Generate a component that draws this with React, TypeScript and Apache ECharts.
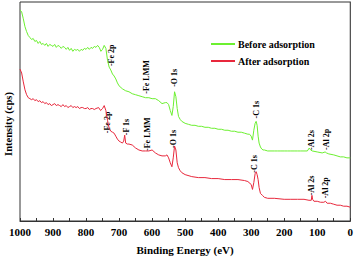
import React, { useEffect, useRef } from "react";
import * as echarts from "echarts";

const FONT = "'Liberation Serif', 'Times New Roman', serif";

const seriesNames = ["Before adsorption", "After adsorption"];

const energyBefore = [
  1000, 995, 990, 985, 980, 975, 970, 965, 960, 955, 950, 945, 940, 935, 930, 925, 920, 915, 910, 905,
  900, 895, 890, 885, 880, 875, 870, 865, 860, 855, 850, 845, 840, 835, 830, 825, 820, 815, 810, 805,
  800, 795, 790, 785, 780, 775, 770, 765, 760, 755, 750, 745, 740, 735, 730, 725, 720, 715, 710, 705,
  700, 690, 680, 670, 660, 650, 640, 630, 620, 610, 600, 590, 580, 570, 560, 555, 550, 545, 540, 536,
  532, 528, 524, 520, 515, 510, 500, 490, 480, 470, 460, 450, 440, 430, 420, 410, 400, 390, 380, 370,
  360, 350, 340, 330, 320, 310, 305, 300, 296, 292, 288, 285, 282, 279, 276, 272, 268, 264, 260, 250,
  240, 230, 220, 210, 200, 190, 180, 170, 160, 150, 140, 130, 124, 120, 115, 100, 85, 76, 72, 65,
  50, 40, 30, 20, 10, 0,
];
const intensityBefore = [
  214, 212, 205, 197, 192, 188, 186, 184, 185, 182, 183, 180, 182, 179, 180, 178, 180, 177, 179, 178,
  177, 179, 176, 178, 177, 175, 177, 176, 174, 176, 173, 175, 172, 174, 173, 174, 172, 174, 173, 175,
  174, 176, 174, 176, 175, 177, 176, 178, 176, 172, 174, 178, 175, 163, 156, 153, 149, 147, 144, 140,
  137, 134, 132, 131, 129, 128, 127, 126, 125, 125, 124, 124, 122, 119, 120, 120, 118, 112, 107, 116,
  131, 126, 114, 106, 103, 101, 99, 98, 97, 97, 96, 96, 95, 95, 94, 94, 93, 93, 92, 92,
  91, 91, 90, 90, 89, 88, 88, 86, 82, 92, 99, 101, 97, 86, 79, 75, 73, 72, 72, 71,
  71, 71, 71, 71, 71, 71, 71, 71, 71, 71, 71, 71, 74, 72, 71, 70, 69, 70, 69, 68,
  67, 66, 65, 65, 64, 64,
];

const energyAfter = [
  1000, 995, 990, 985, 980, 975, 970, 965, 960, 955, 950, 945, 940, 935, 930, 925, 920, 915, 910, 905,
  900, 895, 890, 885, 880, 875, 870, 865, 860, 855, 850, 845, 840, 835, 830, 825, 820, 815, 810, 805,
  800, 795, 790, 785, 780, 775, 770, 762, 756, 750, 745, 740, 735, 730, 725, 720, 715, 710, 705, 700,
  695, 690, 686, 683, 680, 675, 670, 660, 650, 640, 630, 620, 610, 600, 590, 580, 570, 560, 555, 550,
  545, 540, 536, 532, 528, 524, 520, 515, 510, 500, 480, 460, 440, 420, 400, 380, 360, 340, 320, 310,
  300, 296, 292, 288, 285, 282, 279, 276, 272, 266, 260, 250, 230, 200, 180, 160, 140, 125, 118, 116,
  114, 110, 100, 90, 80, 75, 70, 60, 50, 40, 30, 20, 10, 0,
];
const intensityAfter = [
  154, 150, 141, 133, 128, 125, 124, 123, 124, 122, 123, 121, 122, 120, 121, 119, 120, 118, 119, 117,
  118, 119, 117, 118, 117, 116, 118, 116, 117, 115, 116, 117, 115, 116, 115, 116, 114, 115, 115, 114,
  114, 115, 113, 114, 114, 113, 114, 115, 112, 114, 117, 112, 102, 94, 91, 90, 89, 86, 83, 81,
  80, 79, 81, 87, 79, 78, 78, 77, 74, 72, 71, 71, 71, 72, 69, 67, 66, 66, 67, 64,
  59, 55, 64, 76, 72, 59, 54, 51, 49, 47, 45, 44, 44, 43, 43, 42, 42, 42, 41, 40,
  37, 32, 39, 48, 50, 47, 42, 34, 28, 26, 24, 23, 23, 22, 22, 22, 22, 21, 21, 26,
  22, 20, 20, 19, 19, 20, 18, 18, 17, 16, 16, 15, 15, 14,
];

const peakNamesBefore = ["Fe 2p", "Fe LMM", "O 1s", "C 1s", "Al 2s", "Al 2p"];
const peakEnergyBefore = [722, 616, 532, 284, 118, 73];
const peakLabelBaseBefore = [157, 129, 136, 104, 72, 72];

const peakNamesAfter = ["Fe 2p", "F 1s", "Fe LMM", "O 1s", "C 1s", "Al 2s", "Al 2p"];
const peakEnergyAfter = [734, 677, 613, 535, 290, 118, 76];
const peakLabelBaseAfter = [89, 87, 71, 74, 49, 26, 23];

const GREEN = "#6cf030";
const RED = "#e8283c";

function zip(a: number[], b: number[]) {
  return a.map((v, i) => [v, b[i]]);
}

export default function App() {
  const ref = useRef<HTMLDivElement>(null);
  useEffect(() => {
    if (!ref.current) return;
    const chart = echarts.init(ref.current, undefined, { renderer: "svg" });
    const titleGraphic = {
      type: "text",
      x: 8,
      y: 124,
      rotation: Math.PI / 2,
      style: {
        text: "Intensity (cps)",
        fontFamily: FONT,
        fontWeight: "bold",
        fontSize: 10.5,
        fill: "#000",
        align: "center",
        verticalAlign: "middle",
      },
    };
    chart.setOption({
      animation: false,
      grid: {
        left: 20,
        right: 5,
        top: 2,
        bottom: 36,
        show: true,
        borderColor: "#333",
        borderWidth: 1,
      },
      legend: {
        orient: "vertical",
        left: 211,
        top: 38,
        padding: 0,
        itemWidth: 24,
        itemHeight: 2,
        itemGap: 5,
        icon: "rect",
        data: seriesNames,
        textStyle: {
          fontFamily: FONT,
          fontWeight: "bold",
          fontSize: 10,
          color: "#000",
          padding: [0, 0, 0, -2],
          lineHeight: 12,
        },
      },
      xAxis: {
        type: "value",
        inverse: true,
        min: 0,
        max: 1000,
        interval: 100,
        name: "Binding Energy (eV)",
        nameLocation: "middle",
        nameGap: 23,
        nameTextStyle: { fontFamily: FONT, fontWeight: "bold", fontSize: 11, color: "#000" },
        axisLine: { show: true, lineStyle: { color: "#333", width: 1 } },
        axisTick: { show: true, inside: true, length: 3, lineStyle: { color: "#333" } },
        minorTick: { show: true, splitNumber: 2, length: 3, lineStyle: { color: "#333" } },
        splitLine: { show: false },
        axisLabel: {
          fontFamily: FONT,
          fontWeight: "bold",
          fontSize: 11,
          color: "#000",
          margin: 5,
          formatter: (v: number) => String(v),
        },
      },
      yAxis: {
        type: "value",
        min: 0,
        max: 222,
        axisLine: { show: true, lineStyle: { color: "#555" } },
        axisTick: { show: false },
        axisLabel: { show: false },
        splitLine: { show: false },
      },
      graphic: [titleGraphic],
      series: [
        {
          name: seriesNames[0],
          type: "line",
          data: zip(energyBefore, intensityBefore),
          showSymbol: false,
          symbol: "none",
          lineStyle: { color: GREEN, width: 1 },
          itemStyle: { color: GREEN },
        },
        {
          name: seriesNames[1],
          type: "line",
          data: zip(energyAfter, intensityAfter),
          showSymbol: false,
          symbol: "none",
          lineStyle: { color: RED, width: 1 },
          itemStyle: { color: RED },
        },
      ],
    });

    const makeLabels = (names: string[], es: number[], vs: number[]) =>
      names.map((n, i) => {
        const p = chart.convertToPixel({ gridIndex: 0 }, [es[i], vs[i]]) as number[];
        return {
          type: "text",
          x: p[0],
          y: p[1],
          rotation: Math.PI / 2,
          silent: true,
          style: {
            text: "-" + n,
            fontFamily: FONT,
            fontWeight: "bold",
            fontSize: 8,
            fill: "#000",
            align: "left",
            verticalAlign: "middle",
          },
        };
      });

    chart.setOption({
      graphic: [
        titleGraphic,
        ...makeLabels(peakNamesBefore, peakEnergyBefore, peakLabelBaseBefore),
        ...makeLabels(peakNamesAfter, peakEnergyAfter, peakLabelBaseAfter),
      ],
    });
    return () => chart.dispose();
  }, []);
  return (
    <div
      ref={ref}
      style={{ position: "absolute", left: 0, top: 0, width: 356, height: 260 }}
    />
  );
}
